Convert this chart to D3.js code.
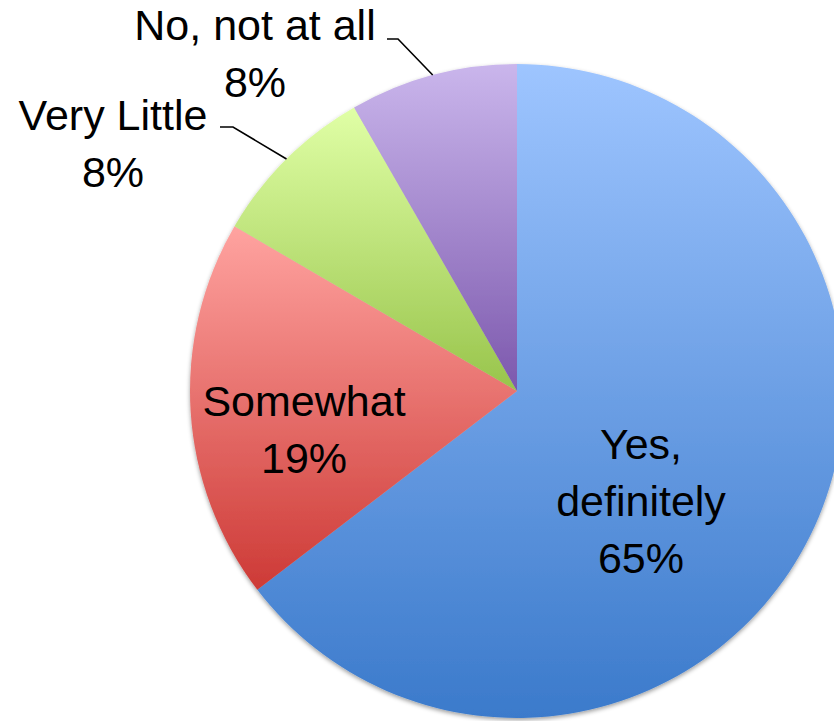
<!DOCTYPE html>
<html>
<head>
<meta charset="utf-8">
<script src="https://cdn.jsdelivr.net/npm/d3@7"></script>
<style>
  html, body { margin: 0; padding: 0; background: #fff; }
  svg { display: block; }
  text { font-family: "Liberation Sans", Arial, sans-serif; fill: #000; }
</style>
</head>
<body>
<svg id="chart" width="834" height="721"></svg>
<script>
// Survey answers, clockwise from 12 o'clock
const categories = ["Yes, definitely", "Somewhat", "Very Little", "No, not at all"];
const shares = [64.6, 18.8, 8.3, 8.3];            // percent of respondents
const labelLines = [["Yes,", "definitely"], ["Somewhat"], ["Very Little"], ["No, not at all"]];
// Vertical gradient per slice: [top colour, bottom colour]
const sliceColors = [
  ["#9ec5ff", "#3b7acb"],
  ["#ffa3a0", "#cd3a36"],
  ["#e0ffa6", "#98c44b"],
  ["#cab6ec", "#7c58ad"]
];

const width = 834, height = 721;
const cx = 517, cy = 391, radius = 327;
const fontSize = 43, lineGap = 57;

const svg = d3.select("#chart");
const defs = svg.append("defs");

// soft shadow under the pie
const shadow = defs.append("filter").attr("id", "pieShadow")
  .attr("x", "-10%").attr("y", "-10%").attr("width", "120%").attr("height", "120%");
shadow.append("feDropShadow")
  .attr("dx", 0).attr("dy", 2).attr("stdDeviation", 2.2)
  .attr("flood-color", "#000").attr("flood-opacity", 0.38);

sliceColors.forEach((c, i) => {
  const g = defs.append("linearGradient").attr("id", "grad" + i)
    .attr("x1", 0).attr("y1", 0).attr("x2", 0).attr("y2", 1);
  g.append("stop").attr("offset", "0%").attr("stop-color", c[0]);
  g.append("stop").attr("offset", "100%").attr("stop-color", c[1]);
});

const pie = d3.pie().sort(null).value(d => d);
const arcs = pie(shares);
const arc = d3.arc().innerRadius(0).outerRadius(radius);
const pct = d3.format(".0%");

const root = svg.append("g").attr("transform", `translate(${cx},${cy})`);

root.append("g").attr("filter", "url(#pieShadow)")
  .selectAll("path").data(arcs).join("path")
  .attr("d", arc)
  .attr("fill", (d, i) => `url(#grad${i})`);

// point on the rim at a slice's mid angle
function rimPoint(d, r) {
  const a = (d.startAngle + d.endAngle) / 2;
  return [Math.sin(a) * r, -Math.cos(a) * r];
}

// Label anchors relative to the pie centre (centre x, first baseline)
const labelPos = [
  [124, 68],
  [-213, 25],
  [-404, -261],
  [-262, -351]
];

const labels = root.append("g").attr("font-size", fontSize).attr("text-anchor", "middle");
arcs.forEach((d, i) => {
  const lines = labelLines[i].concat([pct(shares[i] / 100)]);
  const t = labels.append("text")
    .attr("x", labelPos[i][0]).attr("y", labelPos[i][1]);
  lines.forEach((ln, k) => {
    t.append("tspan").attr("x", labelPos[i][0]).attr("dy", k === 0 ? 0 : lineGap).text(ln);
  });
});

// Leader lines for the two outside labels
const leaders = [
  { i: 2, start: [-297, -264], knee: [-284, -264] },
  { i: 3, start: [-130, -352], knee: [-119, -352] }
];
const line = d3.line();
leaders.forEach(l => {
  const end = rimPoint(arcs[l.i], radius);
  root.append("path")
    .attr("d", line([l.start, l.knee, end]))
    .attr("fill", "none").attr("stroke", "#000").attr("stroke-width", 1.6);
});
</script>
</body>
</html>
